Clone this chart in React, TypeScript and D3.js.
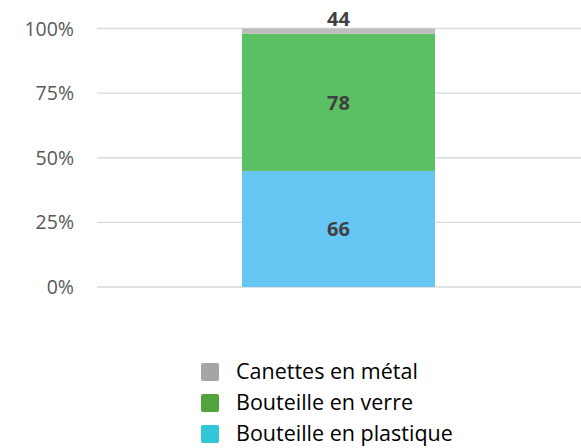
import React, { useRef, useEffect } from 'react';
import * as d3 from 'd3';

// series, bottom to top
const series = ['Bouteille en plastique', 'Bouteille en verre', 'Canettes en métal'];
const segmentValues = [66, 78, 3];
const segmentLabels = ['66', '78', '44'];
const barColors = ['#66c7f4', '#5bbf63', '#bdbdbd'];
const legendColors = ['#33c6d8', '#52a33c', '#a5a5a5'];
const yTicks = [0, 0.25, 0.5, 0.75, 1];

const W = 581;
const H = 448;

const App = () => {
  const svgRef = useRef<SVGSVGElement>(null);

  useEffect(() => {
    const svg = d3.select(svgRef.current);
    svg.selectAll('*').remove();

    const left = 97;
    const right = 581;
    const top = 28.5;
    const bottom = 287;

    const y = d3.scaleLinear().domain([0, 1]).range([bottom, top]);
    // bar spans 242..435
    const barX = 242;
    const barW = 193;

    const g = svg.append('g').attr('font-family', '"Open Sans", sans-serif');

    // gridlines
    g.selectAll('.grid')
      .data(yTicks)
      .enter()
      .append('line')
      .attr('x1', left)
      .attr('x2', right)
      .attr('y1', d => y(d))
      .attr('y2', d => y(d))
      .attr('stroke', '#d9d9d9')
      .attr('stroke-width', 1.3);

    g.selectAll('.tick')
      .data(yTicks)
      .enter()
      .append('text')
      .attr('x', 74)
      .attr('y', d => y(d))
      .attr('dy', '0.36em')
      .attr('text-anchor', 'end')
      .attr('font-size', 19.5)
      .attr('fill', '#595959')
      .text(d => d3.format('.0%')(d));

    const total = d3.sum(segmentValues);
    const stack = d3.stack<number[]>().keys(series.map((_, i) => String(i))).offset(d3.stackOffsetExpand)
      .value((d, key) => d[+key]);
    const layers = stack([segmentValues]);

    layers.forEach((layer, i) => {
      const s = layer[0];
      g.append('rect')
        .attr('x', barX)
        .attr('width', barW)
        .attr('y', y(s[1]))
        .attr('height', y(s[0]) - y(s[1]))
        .attr('fill', barColors[i]);
    });

    layers.forEach((layer, i) => {
      const s = layer[0];
      const small = segmentValues[i] / total < 0.05;
      g.append('text')
        .attr('x', barX + barW / 2)
        .attr('y', small ? y(s[1]) - 10 : (y(s[0]) + y(s[1])) / 2)
        .attr('dy', '0.36em')
        .attr('text-anchor', 'middle')
        .attr('font-size', 20)
        .attr('font-weight', 'bold')
        .attr('fill', '#404040')
        .text(segmentLabels[i]);
    });

    // legend, top to bottom
    const legendOrder = [2, 1, 0];
    const leg = g.append('g');
    legendOrder.forEach((si, row) => {
      const cy = 372 + row * 31;
      leg.append('rect')
        .attr('x', 201)
        .attr('y', cy - 9)
        .attr('width', 18)
        .attr('height', 18)
        .attr('rx', 2)
        .attr('fill', legendColors[si]);
      leg.append('text')
        .attr('x', 236)
        .attr('y', cy)
        .attr('dy', '0.34em')
        .attr('font-size', 21.5)
        .attr('fill', '#000')
        .text(series[si]);
    });
  }, []);

  return (
    <svg ref={svgRef} width={W} height={H} style={{ position: 'absolute', left: 0, top: 0, display: 'block' }} />
  );
};

export default App;
